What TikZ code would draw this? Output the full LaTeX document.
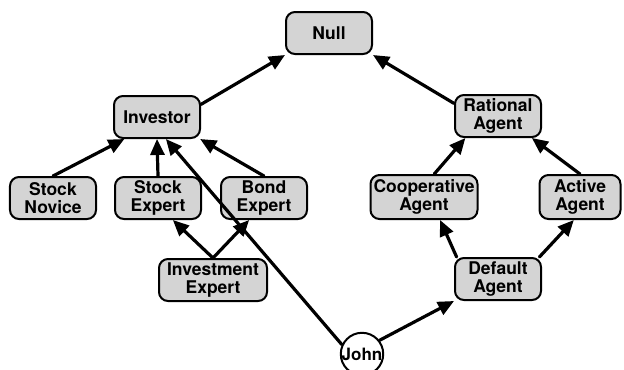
\documentclass[tikz,border=0pt]{standalone}
\usepackage{fontspec}
\setmainfont{TeX Gyre Heros}
\usetikzlibrary{arrows.meta}
\tikzset{
  cls/.style={rectangle,draw,rounded corners=9bp,line width=2bp,fill=black!17,
              inner sep=1bp,minimum width=86bp,minimum height=42bp,align=center,
              font=\fontsize{17.5bp}{18bp}\selectfont\bfseries},
  obj/.style={circle,draw,line width=2bp,fill=white,inner sep=0pt,minimum size=42bp,
              font=\fontsize{17bp}{17bp}\selectfont\bfseries},
  isa/.style={line width=3.2bp,-{Triangle[length=16bp,width=14bp]}},
  every picture/.style={line cap=round,line join=round}}
\begin{document}
\begin{tikzpicture}[x=1bp,y=-1bp]
  \useasboundingbox (0,0) rectangle (624,369);
  % top of the two hierarchies
  \node[cls] (nul) at (329,33) {Null};
  \node[cls] (inv) at (157,117) {Investor}; \node[cls] (rat) at (498,116) {Rational\\Agent};
  % investor side
  \node[cls] (sn) at (53,198) {Stock\\Novice}; \node[cls] (se) at (158,198) {Stock\\Expert};
  \node[cls] (be) at (264,198) {Bond\\Expert};
  \node[cls,minimum width=108bp] (ie) at (213,280) {Investment\\Expert};
  % agent side
  \node[cls,minimum width=107bp,minimum height=44bp] (ca) at (424,197) {Cooperative\\Agent};
  \node[cls,minimum width=81bp,minimum height=44bp] (aa) at (580,197) {Active\\Agent};
  \node[cls] (da) at (498,279) {Default\\Agent};
  \node[obj] (john) at (362,354) {John};
  % links
  \draw[isa] (inv.16) -- (nul.south west); \draw[isa] (rat.164) -- (nul.south east);
  \draw[isa] (sn.north) -- (inv.-146); \draw[isa] (se.north) -- (inv.south);
  \draw[isa] (be.north) -- (inv.-27); \draw[isa] (john.155) -- (inv.-68);
  \draw[isa] (ie.north) -- (se.-56); \draw[isa] (ie.north) -- (be.-124);
  \draw[isa] (ca.66) -- (rat.-146); \draw[isa] (aa.north) -- (rat.-33);
  \draw[isa] (da.152) -- (ca.-55); \draw[isa] (da.28) -- (aa.-105);
  \draw[isa] (john.38) -- (da.south west);
\end{tikzpicture}
\end{document}
